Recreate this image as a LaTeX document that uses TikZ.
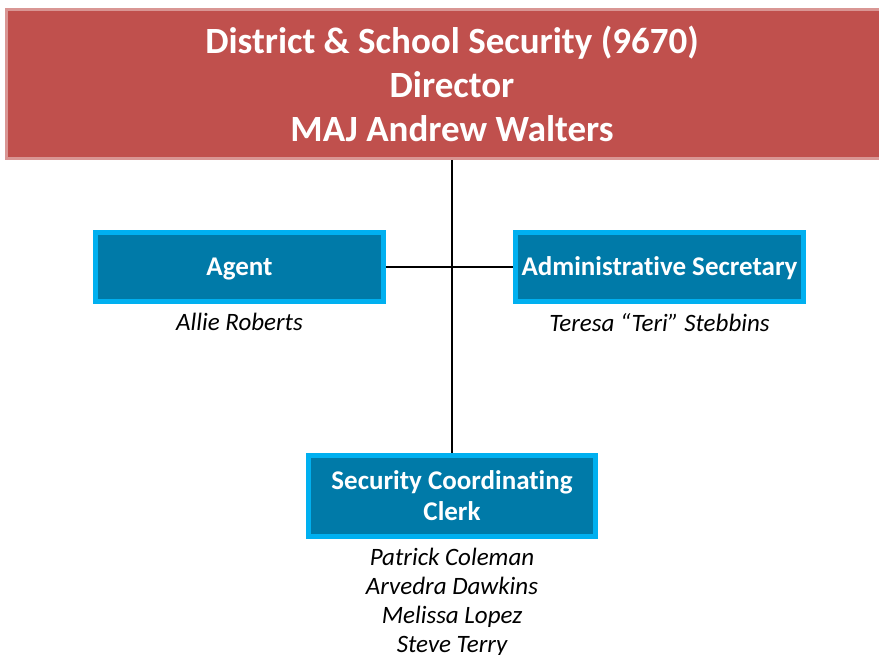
\documentclass[tikz,border=0pt]{standalone}
\usepackage{fontspec}
\setmainfont{Carlito}[Ligatures={NoCommon,NoContextual}]
\usepackage{tikz}
\usetikzlibrary{positioning}

\definecolor{headred}{RGB}{192,80,77}
\definecolor{headrim}{RGB}{217,150,148}
\definecolor{boxblue}{RGB}{0,122,168}
\definecolor{boxrim}{RGB}{0,176,240}

\begin{document}
\begin{tikzpicture}[
    x=1pt, y=-1pt,
    header/.style={rectangle, draw=headrim, fill=headred, line width=3pt, minimum width=891pt, minimum height=149pt, text=white, font=\fontsize{37}{44}\selectfont\bfseries, align=center},
    rolebox/.style={rectangle, draw=boxrim, fill=boxblue, line width=5pt, minimum width=288pt, minimum height=69pt, text=white, font=\fontsize{27}{31}\selectfont\bfseries, align=center, inner sep=0pt},
    oneline/.style={text height=21.6pt, text depth=5.4pt},
    staff/.style={font=\fontsize{25}{29}\selectfont\itshape, align=center, inner sep=0pt},
    link/.style={draw=black, line width=1.3pt}
]
\useasboundingbox (0,0) rectangle (879,655);

% Director
\node[header] (director) at (452,84) {District \& School Security (9670)\\Director\\MAJ Andrew Walters};

% Boxes
\node[rolebox, oneline] (agent) at (239.5,267) {Agent};
\node[rolebox, oneline] (admin) at (659.5,267) {Administrative Secretary};
\node[rolebox, minimum width=287pt, minimum height=81pt] (clerk) at (452,496) {Security Coordinating\\Clerk};

% Names
\node[staff, below=9pt of agent] (agentname) {Allie Roberts};
\node[staff, below=9pt of admin] (adminname) {Teresa “Teri” Stebbins};
\node[staff, below=9pt of clerk] (clerknames) {Patrick Coleman\\Arvedra Dawkins\\Melissa Lopez\\Steve Terry};

% Lines
\draw[link] (director.south) -- (clerk.north);
\draw[link] (agent.east) -- (admin.west);

\end{tikzpicture}
\end{document}
